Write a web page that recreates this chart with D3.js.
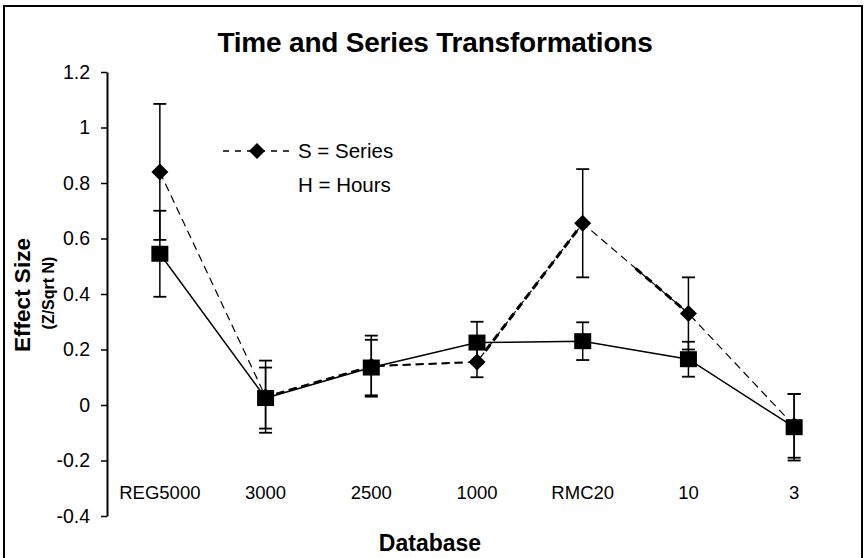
<!DOCTYPE html>
<html>
<head>
<meta charset="utf-8">
<script src="https://cdn.jsdelivr.net/npm/d3@7"></script>
<style>
  html, body { margin: 0; padding: 0; background: #fff; }
  svg { display: block; }
  text { font-family: "Liberation Sans", Arial, Helvetica, sans-serif; fill: #000; }
</style>
</head>
<body>
<svg id="chart" width="865" height="558"></svg>
<script>
// ---- data ----
const categories = ["REG5000", "3000", "2500", "1000", "RMC20", "10", "3"];
const seriesValues = [0.84, 0.03, 0.14, 0.155, 0.655, 0.33, -0.075];
const seriesErrors = [0.245, 0.13, 0.11, 0.055, 0.195, 0.13, 0.115];
const hoursValues = [0.545, 0.025, 0.135, 0.225, 0.23, 0.165, -0.08];
const hoursErrors = [0.155, 0.11, 0.10, 0.075, 0.068, 0.063, 0.12];
const yTickValues = [-0.4, -0.2, 0, 0.2, 0.4, 0.6, 0.8, 1, 1.2];
const titleText = "Time and Series Transformations";
const legendLabels = ["S = Series", "H = Hours"];

// ---- layout ----
const svg = d3.select("#chart");
const plot = { left: 107, right: 847, top: 72, bottom: 516 };

const x = d3.scaleBand().domain(categories).range([plot.left, plot.right]);
const xc = c => x(c) + x.bandwidth() / 2;
const y = d3.scaleLinear().domain([-0.4, 1.2]).range([plot.bottom, plot.top]);

// frame
svg.append("rect")
  .attr("x", 4).attr("y", 6).attr("width", 858).attr("height", 560)
  .attr("fill", "none").attr("stroke", "#000").attr("stroke-width", 2);

// title
svg.append("text")
  .attr("x", 435).attr("y", 52)
  .attr("text-anchor", "middle")
  .attr("font-size", 28).attr("font-weight", "bold")
  .attr("letter-spacing", -0.2)
  .text(titleText);

// y axis
const yAxis = d3.axisLeft(y)
  .tickValues(yTickValues)
  .tickFormat(d => String(d))
  .tickSize(6).tickSizeOuter(0).tickPadding(11);
const gy = svg.append("g").attr("transform", `translate(${plot.left},0)`).call(yAxis);
gy.select(".domain").attr("stroke-width", 2);
gy.selectAll(".tick line").attr("stroke-width", 1.5);
gy.selectAll(".tick text").attr("font-size", 19.5).attr("font-family", "Liberation Sans, Arial, sans-serif").attr("fill", "#000");

// x category labels (no axis line)
const xAxis = d3.axisBottom(x).tickSize(0).tickPadding(0);
const gx = svg.append("g").attr("transform", `translate(0,493)`).call(xAxis);
gx.select(".domain").remove();
gx.selectAll(".tick text").attr("y", 0).attr("dy", "0.35em")
  .attr("font-size", 18.5).attr("font-family", "Liberation Sans, Arial, sans-serif").attr("fill", "#000");

// axis titles
svg.append("text")
  .attr("x", 430).attr("y", 551)
  .attr("text-anchor", "middle")
  .attr("font-size", 23).attr("font-weight", "bold")
  .text("Database");

svg.append("text")
  .attr("transform", "translate(30,295) rotate(-90)")
  .attr("text-anchor", "middle")
  .attr("font-size", 22.5).attr("font-weight", "bold")
  .text("Effect Size");
svg.append("text")
  .attr("transform", "translate(54,293) rotate(-90)")
  .attr("text-anchor", "middle")
  .attr("font-size", 16).attr("font-weight", "bold")
  .text("(Z/Sqrt N)");

// ---- error bars ----
function errorBars(values, errors) {
  const g = svg.append("g");
  categories.forEach((c, i) => {
    const cx = xc(c);
    const hi = y(values[i] + errors[i]);
    const lo = y(values[i] - errors[i]);
    g.append("line").attr("x1", cx).attr("x2", cx).attr("y1", hi).attr("y2", lo)
      .attr("stroke", "#000").attr("stroke-width", 1.5);
    [hi, lo].forEach(yy => {
      g.append("line").attr("x1", cx - 6.5).attr("x2", cx + 6.5).attr("y1", yy).attr("y2", yy)
        .attr("stroke", "#000").attr("stroke-width", 1.8);
    });
  });
}
errorBars(seriesValues, seriesErrors);
errorBars(hoursValues, hoursErrors);

// ---- lines ----
const line = d3.line().x(d => xc(d.c)).y(d => y(d.v));
const sPts = categories.map((c, i) => ({ c, v: seriesValues[i] }));
const hPts = categories.map((c, i) => ({ c, v: hoursValues[i] }));

svg.append("path").datum(hPts).attr("d", line)
  .attr("fill", "none").attr("stroke", "#000").attr("stroke-width", 1.5);

svg.append("path").datum(sPts).attr("d", line)
  .attr("fill", "none").attr("stroke", "#000").attr("stroke-width", 1.2)
  .attr("stroke-dasharray", "8,5");

// heavier dashed strokes (as in the scan) on some segments
function partial(a, b, t0, t1) {
  const ax = xc(a.c), ay = y(a.v), bx = xc(b.c), by = y(b.v);
  return [[ax + (bx - ax) * t0, ay + (by - ay) * t0], [ax + (bx - ax) * t1, ay + (by - ay) * t1]];
}
[[sPts[3], sPts[4], 0.08, 1, 3], [sPts[4], sPts[5], 0.5, 1, 3], [sPts[2], sPts[3], 0.05, 0.9, 2], [sPts[1], sPts[2], 0.1, 0.9, 2]]
  .forEach(([a, b, t0, t1, w]) => {
    svg.append("path").attr("d", d3.line()(partial(a, b, t0, t1)))
      .attr("fill", "none").attr("stroke", "#000").attr("stroke-width", w)
      .attr("stroke-dasharray", "8,5");
  });

// ---- markers ----
svg.append("g").selectAll("path").data(sPts).join("path")
  .attr("transform", d => `translate(${xc(d.c)},${y(d.v)})`)
  .attr("d", "M0,-8.5L8.5,0L0,8.5L-8.5,0Z").attr("fill", "#000");

svg.append("g").selectAll("rect").data(hPts).join("rect")
  .attr("x", d => xc(d.c) - 8.5).attr("y", d => y(d.v) - 8)
  .attr("width", 17).attr("height", 16).attr("fill", "#000");

// ---- legend ----
const lg = svg.append("g");
lg.append("line").attr("x1", 223).attr("x2", 290).attr("y1", 151).attr("y2", 151)
  .attr("stroke", "#000").attr("stroke-width", 1.3).attr("stroke-dasharray", "6,6");
lg.append("path").attr("transform", "translate(257,151)")
  .attr("d", "M0,-8L8,0L0,8L-8,0Z").attr("fill", "#000");
lg.append("text").attr("x", 298).attr("y", 151).attr("dy", "0.35em")
  .attr("font-size", 20.5).text(legendLabels[0]);
lg.append("text").attr("x", 298).attr("y", 185).attr("dy", "0.35em")
  .attr("font-size", 20.5).text(legendLabels[1]);
</script>
</body>
</html>
